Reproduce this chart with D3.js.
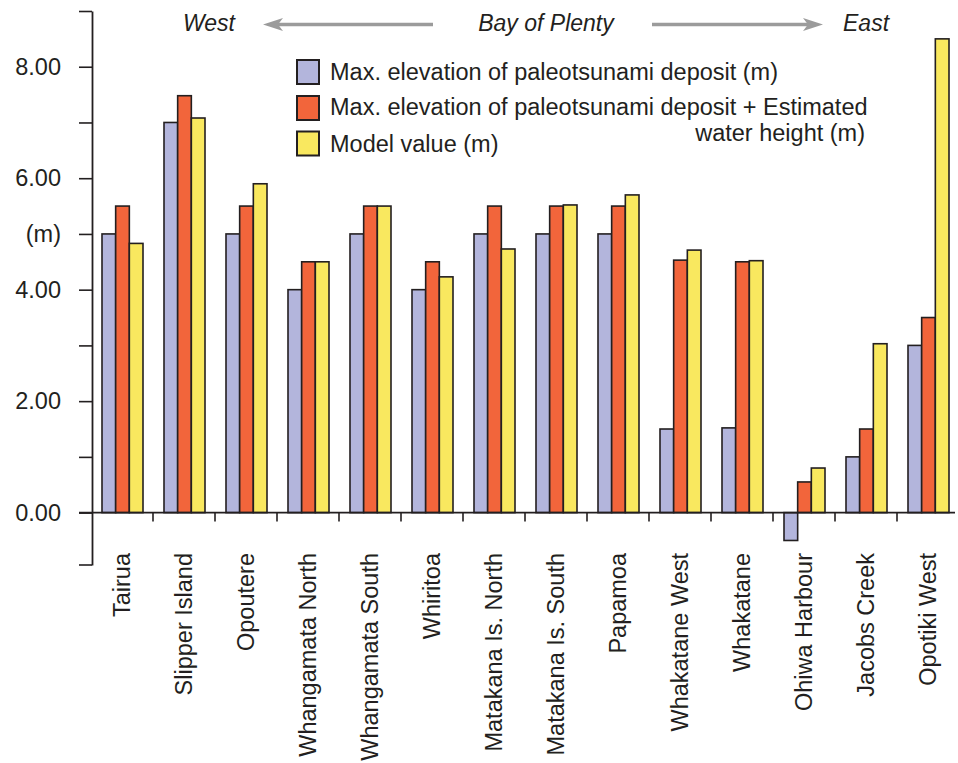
<!DOCTYPE html>
<html>
<head>
<meta charset="utf-8">
<script src="https://cdn.jsdelivr.net/npm/d3@7"></script>
<style>
  html, body { margin: 0; padding: 0; background: #fff; }
  svg { display: block; font-family: "Liberation Sans", Arial, Helvetica, sans-serif; }
</style>
</head>
<body>
<svg id="chart" width="958" height="763"></svg>
<script>
// Sites along the Bay of Plenty coast, west to east
const categories = ["Tairua", "Slipper Island", "Opoutere", "Whangamata North", "Whangamata South",
  "Whiritoa", "Matakana Is. North", "Matakana Is. South", "Papamoa", "Whakatane West",
  "Whakatane", "Ohiwa Harbour", "Jacobs Creek", "Opotiki West"];

// Max. elevation of paleotsunami deposit (m)
const depositElevation = [5.0, 7.0, 5.0, 4.0, 5.0, 4.0, 5.0, 5.0, 5.0, 1.5, 1.52, -0.5, 1.0, 3.0];
// Max. elevation of deposit + estimated water height (m)
const depositPlusWater = [5.5, 7.48, 5.5, 4.5, 5.5, 4.5, 5.5, 5.5, 5.5, 4.53, 4.5, 0.55, 1.5, 3.5];
// Model value (m)
const modelValue = [4.83, 7.08, 5.9, 4.5, 5.5, 4.23, 4.73, 5.52, 5.7, 4.71, 4.52, 0.8, 3.03, 8.5];

const seriesNames = ["Max. elevation of paleotsunami deposit (m)",
  "Max. elevation of paleotsunami deposit + Estimated",
  "Model value (m)"];
const seriesColors = ["#b3b5dc", "#f2653b", "#f9e85f"];

// Y axis ticks and their labels
const yTicks = [0, 1, 2, 3, 4, 5, 6, 7, 8, 9];
const yTickLabels = {0: "0.00", 2: "2.00", 4: "4.00", 5: "(m)", 6: "6.00", 8: "8.00"};

const ink = "#231f20";
const arrowGrey = "#9b9b9b";
const fontSize = "23.5px";

const svg = d3.select("#chart");

const y = d3.scaleLinear().domain([-0.94, 9]).range([565, 11]);
const x = d3.scaleBand().domain(categories).range([91, 959]).padding(0);
const xSub = d3.scaleBand().domain([0, 1, 2]).range([11, x.bandwidth() - 10]).padding(0);

const table = categories.map((c, i) => ({
  cat: c,
  values: [depositElevation[i], depositPlusWater[i], modelValue[i]]
}));

// Bars
const groups = svg.append("g").selectAll("g")
  .data(table).join("g")
  .attr("transform", d => `translate(${x(d.cat)},0)`);

groups.selectAll("rect")
  .data(d => d.values.map((v, k) => ({v, k})))
  .join("rect")
  .attr("x", d => xSub(d.k))
  .attr("width", xSub.bandwidth())
  .attr("y", d => y(Math.max(0, d.v)))
  .attr("height", d => Math.abs(y(d.v) - y(0)))
  .attr("fill", d => seriesColors[d.k])
  .attr("stroke", ink)
  .attr("stroke-width", 1.6);

// Y axis
const yAxis = d3.axisLeft(y)
  .tickValues(yTicks)
  .tickSize(13)
  .tickSizeOuter(0)
  .tickPadding(18)
  .tickFormat(d => yTickLabels[d] || "");

const gy = svg.append("g").attr("transform", "translate(92,0)").call(yAxis);
gy.select(".domain").attr("stroke", ink).attr("stroke-width", 1.8);
gy.selectAll(".tick line").attr("stroke", ink).attr("stroke-width", 1.6);
gy.selectAll(".tick text")
  .attr("fill", ink)
  .style("font-size", fontSize)
  .style("font-family", "'Liberation Sans', Arial, sans-serif");
// bottom cap of the axis
gy.append("line")
  .attr("x1", -13).attr("x2", 0)
  .attr("y1", y(-0.94)).attr("y2", y(-0.94))
  .attr("stroke", ink).attr("stroke-width", 1.6);

// Zero baseline with category separators
const xAxis = d3.axisBottom(x).tickSize(0).tickFormat("");
const gx = svg.append("g").attr("transform", `translate(0,${y(0)})`).call(xAxis);
gx.select(".domain").attr("stroke", ink).attr("stroke-width", 1.6)
  .attr("d", `M79,0H955`);
gx.selectAll(".tick").remove();
gx.selectAll("line.sep")
  .data(categories.slice(1))
  .join("line")
  .attr("class", "sep")
  .attr("x1", d => x(d)).attr("x2", d => x(d))
  .attr("y1", 0).attr("y2", 9)
  .attr("stroke", ink).attr("stroke-width", 1.6);

// Category labels, rotated
svg.append("g").selectAll("text")
  .data(categories)
  .join("text")
  .attr("transform", d => `translate(${x(d) + x.bandwidth() / 2},553) rotate(-90)`)
  .attr("text-anchor", "end")
  .attr("dy", "0.35em")
  .attr("fill", ink)
  .style("font-size", fontSize)
  .text(d => d);

// Direction header
const header = svg.append("g").attr("fill", ink).style("font-size", "23px").style("font-style", "italic");
header.append("text").attr("x", 183).attr("y", 31).text("West");
header.append("text").attr("x", 546).attr("y", 31).attr("text-anchor", "middle").text("Bay of Plenty");
header.append("text").attr("x", 843).attr("y", 31).text("East");

function arrow(x0, x1, yy) {
  const dir = Math.sign(x1 - x0);
  const headLen = 20, half = 6.5, notch = 5;
  svg.append("line")
    .attr("x1", x0).attr("x2", x1 - dir * (headLen - notch))
    .attr("y1", yy).attr("y2", yy)
    .attr("stroke", arrowGrey).attr("stroke-width", 3.5);
  svg.append("path")
    .attr("d", `M${x1},${yy} L${x1 - dir * headLen},${yy - half} L${x1 - dir * (headLen - notch)},${yy} L${x1 - dir * headLen},${yy + half} Z`)
    .attr("fill", arrowGrey);
}
arrow(433, 263, 24.5);
arrow(652, 823, 24.5);

// Legend
const legend = svg.append("g");
const legendRows = [72, 108, 143.5];
legendRows.forEach((cy, i) => {
  legend.append("rect")
    .attr("x", 297).attr("y", cy - 12)
    .attr("width", 22).attr("height", 24)
    .attr("fill", seriesColors[i])
    .attr("stroke", ink).attr("stroke-width", 2);
});
const legendText = legend.append("g").attr("fill", ink).style("font-size", fontSize);
legendText.append("text").attr("x", 330).attr("y", 80).text(seriesNames[0]);
legendText.append("text").attr("x", 330).attr("y", 115).text(seriesNames[1]);
legendText.append("text").attr("x", 865).attr("y", 141).attr("text-anchor", "end").text("water height (m)");
legendText.append("text").attr("x", 330).attr("y", 152).text(seriesNames[2]);
</script>
</body>
</html>
